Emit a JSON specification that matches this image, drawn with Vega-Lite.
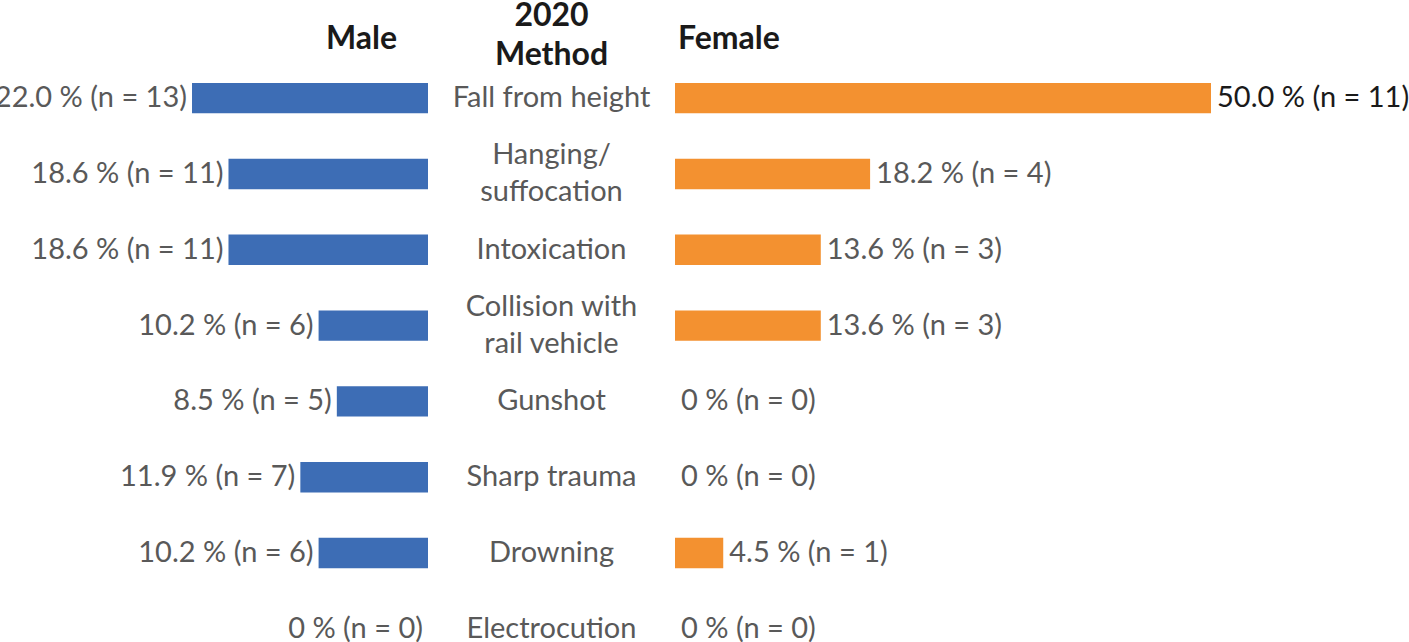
{
  "$schema": "https://vega.github.io/schema/vega-lite/v6.json",
  "padding": 0,
  "background": "white",
  "spacing": 0,
  "bounds": "flush",
  "config": {
    "view": {"stroke": null},
    "font": "Lato",
    "title": {"font": "Lato", "fontSize": 32, "fontWeight": "bold", "color": "#1a1a1a"}
  },
  "data": {
    "values": [
      {"method": "Fall from height", "label": ["Fall from height"], "male": 22.0, "male_label": "22.0 % (n = 13)", "female": 50.0, "female_label": "50.0 % (n = 11)"},
      {"method": "Hanging/suffocation", "label": ["Hanging/", "suffocation"], "male": 18.6, "male_label": "18.6 % (n = 11)", "female": 18.2, "female_label": "18.2 % (n = 4)"},
      {"method": "Intoxication", "label": ["Intoxication"], "male": 18.6, "male_label": "18.6 % (n = 11)", "female": 13.6, "female_label": "13.6 % (n = 3)"},
      {"method": "Collision with rail vehicle", "label": ["Collision with", "rail vehicle"], "male": 10.2, "male_label": "10.2 % (n = 6)", "female": 13.6, "female_label": "13.6 % (n = 3)"},
      {"method": "Gunshot", "label": ["Gunshot"], "male": 8.5, "male_label": "8.5 % (n = 5)", "female": 0, "female_label": "0 % (n = 0)"},
      {"method": "Sharp trauma", "label": ["Sharp trauma"], "male": 11.9, "male_label": "11.9 % (n = 7)", "female": 0, "female_label": "0 % (n = 0)"},
      {"method": "Drowning", "label": ["Drowning"], "male": 10.2, "male_label": "10.2 % (n = 6)", "female": 4.5, "female_label": "4.5 % (n = 1)"},
      {"method": "Electrocution", "label": ["Electrocution"], "male": 0, "male_label": "0 % (n = 0)", "female": 0, "female_label": "0 % (n = 0)"}
    ]
  },
  "hconcat": [
    {
      "width": 428,
      "height": 561,
      "title": {"text": "Male", "anchor": "end", "dx": -31, "offset": 27},
      "encoding": {
        "y": {"field": "method", "type": "nominal", "axis": null,
              "sort": ["Fall from height", "Hanging/suffocation", "Intoxication", "Collision with rail vehicle", "Gunshot", "Sharp trauma", "Drowning", "Electrocution"],
              "scale": {"type": "band", "paddingInner": 0.6, "paddingOuter": 0}}
      },
      "layer": [
        {
          "mark": {"type": "bar", "color": "#3d6db5"},
          "encoding": {
            "x": {"field": "male", "type": "quantitative", "axis": null,
                  "scale": {"domain": [0, 39.9], "reverse": true, "nice": false, "zero": true}}
          }
        },
        {
          "mark": {"type": "text", "align": "right", "baseline": "middle", "dx": -5, "fontSize": 29, "color": "#595959", "clip": true},
          "encoding": {
            "x": {"field": "male", "type": "quantitative"},
            "text": {"field": "male_label"}
          }
        }
      ]
    },
    {
      "width": 247,
      "height": 561,
      "title": {"text": ["2020", "Method"], "anchor": "middle", "offset": 11, "lineHeight": 39},
      "encoding": {
        "y": {"field": "method", "type": "nominal", "axis": null,
              "sort": ["Fall from height", "Hanging/suffocation", "Intoxication", "Collision with rail vehicle", "Gunshot", "Sharp trauma", "Drowning", "Electrocution"],
              "scale": {"type": "band", "paddingInner": 0.6, "paddingOuter": 0}},
        "text": {"field": "label"}
      },
      "layer": [
        {
          "transform": [{"filter": "length(datum.label) == 1"}],
          "mark": {"type": "text", "align": "center", "baseline": "middle", "fontSize": 29, "color": "#595959", "lineHeight": 37}
        },
        {
          "transform": [{"filter": "length(datum.label) > 1"}],
          "mark": {"type": "text", "align": "center", "baseline": "middle", "dy": -18.5, "fontSize": 29, "color": "#595959", "lineHeight": 37}
        }
      ]
    },
    {
      "width": 734,
      "height": 561,
      "title": {"text": "Female", "anchor": "start", "dx": 3, "offset": 27},
      "encoding": {
        "y": {"field": "method", "type": "nominal", "axis": null,
              "sort": ["Fall from height", "Hanging/suffocation", "Intoxication", "Collision with rail vehicle", "Gunshot", "Sharp trauma", "Drowning", "Electrocution"],
              "scale": {"type": "band", "paddingInner": 0.6, "paddingOuter": 0}}
      },
      "layer": [
        {
          "mark": {"type": "bar", "color": "#f39130"},
          "encoding": {
            "x": {"field": "female", "type": "quantitative", "axis": null,
                  "scale": {"domain": [0, 68.47], "nice": false, "zero": true}}
          }
        },
        {
          "mark": {"type": "text", "align": "left", "baseline": "middle", "dx": 6, "fontSize": 29},
          "encoding": {
            "x": {"field": "female", "type": "quantitative"},
            "text": {"field": "female_label"},
            "color": {"condition": {"test": "datum.female >= 50", "value": "#1a1a1a"}, "value": "#595959"}
          }
        }
      ]
    }
  ]
}
